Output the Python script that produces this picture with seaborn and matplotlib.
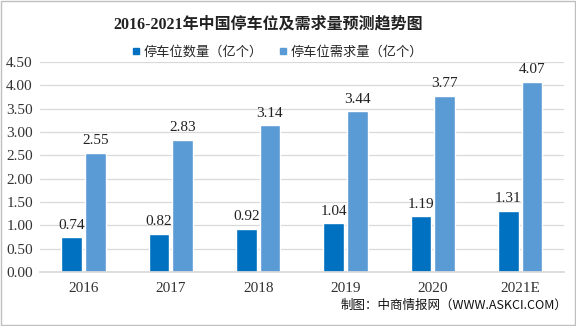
import matplotlib
matplotlib.use("Agg")
import matplotlib.pyplot as plt
from matplotlib.lines import Line2D
from matplotlib.patches import Rectangle
import seaborn as sns
import pandas as pd

years = ["2016", "2017", "2018", "2019", "2020", "2021E"]
supply = [0.74, 0.82, 0.92, 1.04, 1.19, 1.31]
demand = [2.55, 2.83, 3.14, 3.44, 3.77, 4.07]
series_names = ["停车位数量（亿个）", "停车位需求量（亿个）"]
y_ticks = [0.0, 0.5, 1.0, 1.5, 2.0, 2.5, 3.0, 3.5, 4.0, 4.5]

sns.set_theme(style="white")
fonts = ["Liberation Serif", "Noto Sans CJK SC", "DejaVu Sans"]
plt.rcParams["font.family"] = fonts

df = pd.DataFrame({
    "year": years * 2,
    "value": supply + demand,
    "series": [series_names[0]] * len(years) + [series_names[1]] * len(years),
})
colors = ["#0070C0", "#5B9BD5"]

fig = plt.figure(figsize=(5.76, 3.26), dpi=100)
ax = fig.add_axes([0.069, 0.166, 0.91, 0.644])

sns.barplot(data=df, x="year", y="value", hue="series", palette=colors,
            width=0.54, gap=0.12, saturation=1, ax=ax, legend=False)

for cont in ax.containers:
    ax.bar_label(cont, fmt="%.2f", padding=4, fontsize=11, color="#222222",
                 family=fonts)

ax.set_ylim(0, 4.5)
ax.set_yticks(y_ticks)
ax.set_yticklabels([f"{v:.2f}" for v in y_ticks])
ax.set_xlim(-0.5, len(years) - 0.5)
ax.yaxis.grid(True, color="#D9D9D9", linewidth=0.9)
ax.set_axisbelow(True)
ax.set_xlabel("")
ax.set_ylabel("")
for s in ["top", "right", "left"]:
    ax.spines[s].set_visible(False)
ax.spines["bottom"].set_color("#D9D9D9")
ax.tick_params(axis="both", length=0, labelsize=11, colors="#333333")
ax.tick_params(axis="y", pad=5)
ax.tick_params(axis="x", pad=7)

fig.text(0.465, 0.925, "2016-2021年中国停车位及需求量预测趋势图",
         ha="center", va="center", fontsize=11.5, fontweight="bold",
         color="#222222", family=fonts)

handles = [Line2D([0], [0], marker="s", linestyle="", markersize=5,
                  markerfacecolor=c, markeredgecolor=c) for c in colors]
fig.legend(handles, series_names, loc="center", bbox_to_anchor=(0.48, 0.84),
           ncol=2, frameon=False, handletextpad=0.1, handlelength=1.0,
           columnspacing=1.0, prop={"family": fonts, "size": 9.5})

fig.text(0.985, 0.063, "制图：中商情报网（WWW.ASKCI.COM）", ha="right",
         va="center", fontsize=9, color="#111111",
         family=["Noto Sans CJK SC", "DejaVu Sans"])

fig.patches.append(Rectangle((0.001, 0.002), 0.997, 0.995, transform=fig.transFigure,
                             fill=False, edgecolor="#BFBFBF", linewidth=1))

fig.savefig("out.png", dpi=100)
